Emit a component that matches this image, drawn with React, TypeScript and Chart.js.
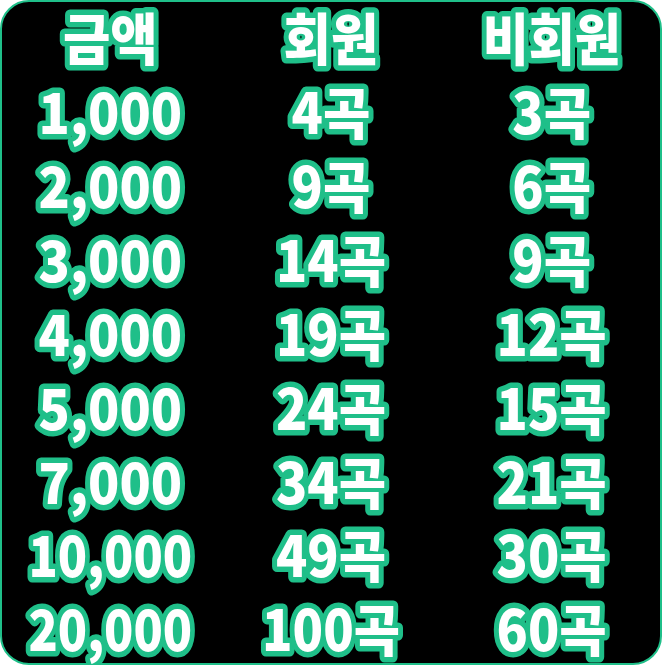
import React, { useEffect, useRef } from "react";
import { Chart, registerables, Plugin } from "chart.js";

Chart.register(...registerables);

const headers = ["금액", "회원", "비회원"];
const amounts = ["1,000", "2,000", "3,000", "4,000", "5,000", "7,000", "10,000", "20,000"];
const memberSongs = [4, 9, 14, 19, 24, 34, 49, 100];
const nonMemberSongs = [3, 6, 9, 12, 15, 21, 30, 60];

const GREEN = "#1fbf89";

const tableText: Plugin = {
  id: "tableText",
  beforeDraw(chart) {
    const { ctx, width, height } = chart;
    ctx.save();
    ctx.fillStyle = "#ffffff";
    ctx.fillRect(0, 0, width, height);
    ctx.beginPath();
    ctx.roundRect(1, 1, width - 2, height - 2, 28);
    ctx.fillStyle = "#000000";
    ctx.fill();
    ctx.lineWidth = 2;
    ctx.strokeStyle = GREEN;
    ctx.stroke();
    ctx.restore();
  },
  afterDraw(chart) {
    const { ctx } = chart;
    const xs = chart.scales.x;
    const ys = chart.scales.y;
    const rows: string[][] = [
      headers,
      ...amounts.map((a, i) => [a, memberSongs[i] + "곡", nonMemberSongs[i] + "곡"]),
    ];
    ctx.save();
    ctx.font = '900 56px "Noto Sans CJK KR"';
    ctx.textAlign = "center";
    ctx.textBaseline = "middle";
    ctx.lineJoin = "round";
    rows.forEach((row, r) => {
      row.forEach((txt, c) => {
        const x = xs.getPixelForValue(c + 0.5);
        const y = ys.getPixelForValue(r + 0.5);
        const w = ctx.measureText(txt).width;
        const cap = c === 0 ? 178 : 150;
        const sx = Math.min(1, cap / w) * 0.92;
        ctx.save();
        ctx.translate(x, y + 2);
        ctx.scale(sx, 1);
        ctx.lineWidth = 11;
        ctx.strokeStyle = GREEN;
        ctx.strokeText(txt, 0, 0);
        ctx.fillStyle = "#ffffff";
        ctx.fillText(txt, 0, 0);
        ctx.restore();
      });
    });
    ctx.restore();
  },
};

export default function App() {
  const canvasRef = useRef<HTMLCanvasElement | null>(null);

  useEffect(() => {
    document.body.style.margin = "0";
    if (!canvasRef.current) return;
    const chart = new Chart(canvasRef.current, {
      type: "scatter",
      data: { datasets: [{ data: [] }] },
      options: {
        animation: false,
        responsive: false,
        devicePixelRatio: 1,
        layout: { padding: 0 },
        plugins: { legend: { display: false }, tooltip: { enabled: false } },
        scales: {
          x: { type: "linear", min: 0, max: 3, display: false },
          y: { type: "linear", min: 0, max: 9, reverse: true, display: false },
        },
      },
      plugins: [tableText],
    });
    return () => chart.destroy();
  }, []);

  return <canvas ref={canvasRef} width={662} height={665} style={{ display: "block" }} />;
}
